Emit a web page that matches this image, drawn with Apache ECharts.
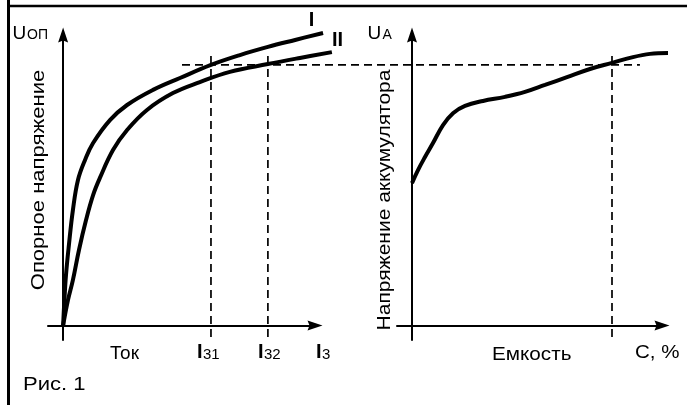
<!DOCTYPE html>
<html>
<head>
<meta charset="utf-8">
<script src="https://cdn.jsdelivr.net/npm/echarts@6/dist/echarts.min.js"></script>
<style>html,body{margin:0;padding:0;background:#fff;}#c{width:687px;height:405px;}</style>
</head>
<body>
<div id="c"></div>
<script>
// Left panel: reference voltage vs charging current (arbitrary units)
const currentI = [0, 0.4, 1.15, 2.3, 3.9, 5.9, 8.7, 11.9, 18.6, 25.4, 35.7, 46.4, 58.7, 70.2, 81.3, 92.1, 103.2];
const voltageI = [0, 7, 17.4, 27.7, 39.8, 50.1, 57, 62.8, 70.7, 75.9, 81.1, 85.2, 89.7, 93.1, 95.9, 98.3, 100.7];
const currentII = [0, 1.95, 3.9, 6.3, 9.1, 11.9, 14.6, 19.8, 25.4, 33.3, 43.6, 54.3, 66.2, 81.3, 94.0, 106.7];
const voltageII = [0, 8.8, 15.7, 26.0, 36.3, 44.9, 50.8, 60.4, 67.3, 74.2, 80.0, 83.8, 87.3, 90.0, 92.1, 94.1];
// Right panel: battery voltage vs capacity
const capacity = [0, 2.4, 5.2, 8.4, 12.4, 16.4, 21.2, 28.4, 37.2, 45.2, 53.2, 62.0, 71.2, 80.0, 88.4, 95.2, 102.4];
const batteryVoltage = [49.0, 53.5, 58.0, 62.8, 69.0, 73.1, 75.6, 77.3, 78.7, 80.4, 82.8, 85.5, 88.3, 90.4, 92.4, 93.5, 93.8];
// Reference levels
const refVoltage = 89.7;
const refLineSpan = [47.2, 229];      // in left-panel current units
const currentMarks = [58.7, 81.3];    // I31, I32
const capacityMark = 80.0;
const markSpan = [-4, 94.1];
const labels = {
  yLeft: 'Опорное напряжение', yRight: 'Напряжение аккумулятора',
  xLeft: 'Ток', xRight: 'Емкость', caption: 'Рис. 1'
};

const W = 687, H = 405;
const AX = { min: -6, max: 100 }, AY = { min: -5, max: 100 };
const G = { top: 35, bottom: 65, lLeft: 48, lRight: 372, rLeft: 397, rRight: 25 };

const zip = (a, b) => a.map((v, i) => [v, b[i]]);
const FONT = '"Liberation Sans", Arial, Helvetica, sans-serif';
const arrow = 'path://M5,0 L10,15 L5,13 L0,15 Z';

function axisVisible(gi) {
  return {
    type: 'value', gridIndex: gi,
    axisLine: { show: true, onZero: true, symbol: ['none', arrow], symbolSize: [11, 15],
      lineStyle: { color: '#000', width: 2 } },
    axisTick: { show: false }, axisLabel: { show: false }, splitLine: { show: false }
  };
}
function axisHidden(gi, min, max) {
  return { type: 'value', gridIndex: gi, min: min, max: max, show: false,
    axisLine: { show: false }, axisTick: { show: false }, axisLabel: { show: false }, splitLine: { show: false } };
}

// hidden "data" grids share the visible axes' scale but extend to the canvas edge
const plotH = H - G.top - G.bottom;
const ky = plotH / (AY.max - AY.min);
const yMaxData = AY.min + (H - G.bottom) / ky;
function xMaxData(left, right) {
  const w = W - left - right;
  const kx = w / (AX.max - AX.min);
  return AX.min + (W - left) / kx;
}

const dash = { color: '#000', width: 1.7, type: [8, 5] };
const curve = { color: '#000', width: 4 };
const ln = (xi, data, style, smooth) => ({ type: 'line', xAxisIndex: xi, yAxisIndex: xi, data: data,
  smooth: smooth || false, showSymbol: false, clip: false, lineStyle: style, silent: true });

const series = [
  ln(2, zip(currentI, voltageI), curve, 0.4),
  ln(2, zip(currentII, voltageII), curve, 0.4),
  ln(3, zip(capacity, batteryVoltage), curve, 0.4),
  ln(2, refLineSpan.map(x => [x, refVoltage]), dash),
  ln(3, markSpan.map(y => [capacityMark, y]), dash)
];
currentMarks.forEach(m => series.push(ln(2, markSpan.map(y => [m, y]), dash)));

function txt(text, x, y, size, o) {
  o = o || {};
  const el = { type: 'text', x: x, y: y, silent: true,
    style: { text: text, font: (o.weight ? o.weight + ' ' : '') + size + 'px ' + FONT, fill: '#000',
      textAlign: o.align || 'left', textVerticalAlign: 'middle' } };
  if (o.rotation) el.rotation = o.rotation;
  if (o.sx) { el.scaleX = o.sx; }
  return el;
}

const chart = echarts.init(document.getElementById('c'), null, { renderer: 'canvas' });
chart.setOption({
  animation: false,
  backgroundColor: '#fff',
  grid: [
    { left: G.lLeft, right: G.lRight, top: G.top, bottom: G.bottom },
    { left: G.rLeft, right: G.rRight, top: G.top, bottom: G.bottom },
    { left: G.lLeft, right: 0, top: 0, bottom: G.bottom },
    { left: G.rLeft, right: 0, top: 0, bottom: G.bottom }
  ],
  xAxis: [
    Object.assign(axisVisible(0), AX), Object.assign(axisVisible(1), AX),
    axisHidden(2, AX.min, xMaxData(G.lLeft, G.lRight)), axisHidden(3, AX.min, xMaxData(G.rLeft, G.rRight))
  ],
  yAxis: [
    Object.assign(axisVisible(0), AY), Object.assign(axisVisible(1), AY),
    axisHidden(2, AY.min, yMaxData), axisHidden(3, AY.min, yMaxData)
  ],
  series: series,
  graphic: [
    { type: 'line', shape: { x1: 8.5, y1: 0, x2: 8.5, y2: 405 }, style: { stroke: '#000', lineWidth: 3 }, silent: true },
    { type: 'line', shape: { x1: 7, y1: 6, x2: 687, y2: 6 }, style: { stroke: '#000', lineWidth: 2.5 }, silent: true },
    txt('U', 12.5, 33.5, 19), txt('ОП', 27, 35, 14),
    txt('U', 367.5, 34, 19), txt('A', 382.5, 35.5, 14),
    txt('I', 311.5, 20.5, 20, { weight: 'bold', align: 'center' }),
    txt('II', 337.5, 40, 20, { weight: 'bold', align: 'center' }),
    txt(labels.xLeft, 110, 353.5, 19),
    txt('I', 197, 352.5, 20, { weight: 'bold' }), txt('31', 203, 355, 15),
    txt('I', 258, 352.5, 20, { weight: 'bold' }), txt('32', 264, 355, 15),
    txt('I', 316, 352.5, 20, { weight: 'bold' }), txt('3', 322, 355, 15),
    txt(labels.xRight, 492, 354.5, 19, { sx: 1.09 }),
    txt('C, %', 635, 352.5, 19, { sx: 1.08 }),
    txt(labels.caption, 23, 385, 19, { sx: 1.16 }),
    txt(labels.yLeft, 39, 180, 19, { rotation: Math.PI / 2, align: 'center', sx: 1.16 }),
    txt(labels.yRight, 385, 200, 19, { rotation: Math.PI / 2, align: 'center', sx: 1.105 })
  ]
});
</script>
</body>
</html>
